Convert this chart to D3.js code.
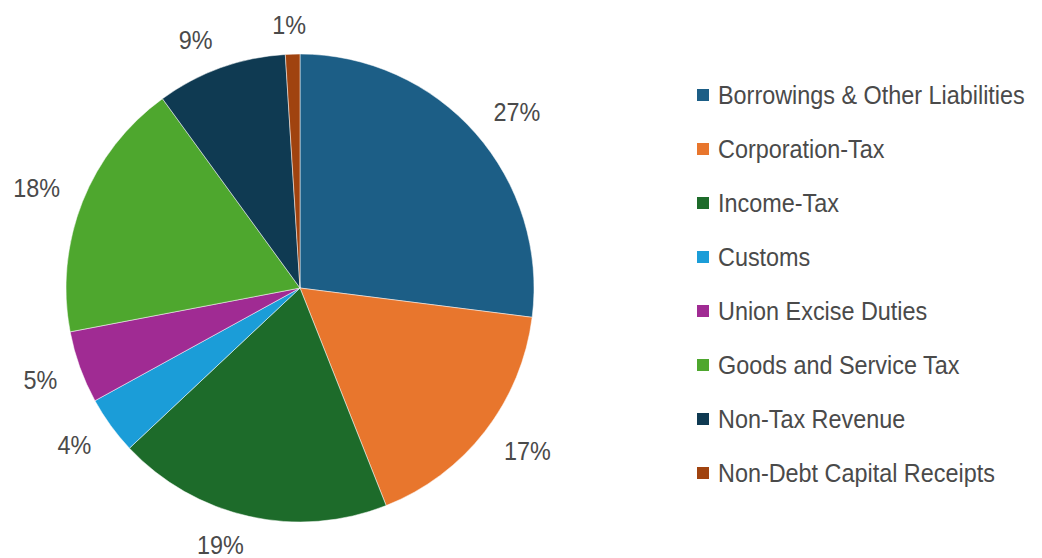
<!DOCTYPE html>
<html>
<head>
<meta charset="utf-8">
<script src="https://cdn.jsdelivr.net/npm/d3@7"></script>
<style>
  body { margin: 0; background: #fff; }
  text { font-family: "Liberation Sans", Arial, sans-serif; fill: #4a4a4a; }
</style>
</head>
<body>
<div id="chart"></div>
<script>
const width = 1042;
const height = 558;

// data
const categories = ["Borrowings & Other Liabilities", "Corporation-Tax", "Income-Tax", "Customs",
    "Union Excise Duties", "Goods and Service Tax", "Non-Tax Revenue", "Non-Debt Capital Receipts"];
const shares = [27, 17, 19, 4, 5, 18, 9, 1];
const colors = ["#1c5e86", "#e8762d", "#1d6b2a", "#1b9dd8", "#a02b93", "#4ea72e", "#0f3a52", "#a0430f"];

const cx = 300, cy = 288, radius = 234;
const squeeze = 0.9; // narrow look of the original font

let svg = d3.select("#chart")
    .append("svg")
    .attr("width", width)
    .attr("height", height);

const color = d3.scaleOrdinal().domain(categories).range(colors);

const pie = d3.pie().sort(null).value(d => d.value);
const arcs = pie(categories.map((c, i) => ({ name: c, value: shares[i] })));

const arc = d3.arc().innerRadius(0).outerRadius(radius);

let g = svg.append("g").attr("transform", "translate(" + cx + "," + cy + ")");

//slices
g.selectAll("path")
    .data(arcs)
    .enter()
    .append("path")
    .attr("d", arc)
    .attr("fill", d => color(d.data.name))
    .attr("stroke", "#fff")
    .attr("stroke-width", 0.5);

//percent labels: pushed sideways by half their width so they clear the pie
const clamp = v => Math.max(-1, Math.min(1, v));
const labelRing = 258;

let labels = g.selectAll(".lbl")
    .data(arcs)
    .enter()
    .append("text")
    .attr("class", "lbl")
    .attr("text-anchor", "middle")
    .attr("dominant-baseline", "central")
    .style("font-size", "26px")
    .text(d => d.data.value + "%");

labels.attr("transform", function (d) {
    let a = (d.startAngle + d.endAngle) / 2;
    let s = Math.sin(a), c = -Math.cos(a);
    let halfW = this.getComputedTextLength() * squeeze / 2;
    let x = s * labelRing + halfW * clamp(s * 5);
    let y = c * labelRing + 5 * clamp(c * 5);
    return "translate(" + x + "," + y + ") scale(" + squeeze + ",1)";
});

//legend
let legend = svg.append("g").attr("transform", "translate(697, 95)");
let rows = legend.selectAll(".row")
    .data(categories)
    .enter()
    .append("g")
    .attr("class", "row")
    .attr("transform", (d, i) => "translate(0," + i * 54 + ")");

rows.append("rect")
    .attr("x", 0)
    .attr("y", -6)
    .attr("width", 12)
    .attr("height", 12)
    .attr("fill", d => color(d));

rows.append("text")
    .attr("transform", "translate(21,0) scale(" + squeeze + ",1)")
    .attr("dominant-baseline", "central")
    .style("font-size", "26px")
    .text(d => d);
</script>
</body>
</html>
